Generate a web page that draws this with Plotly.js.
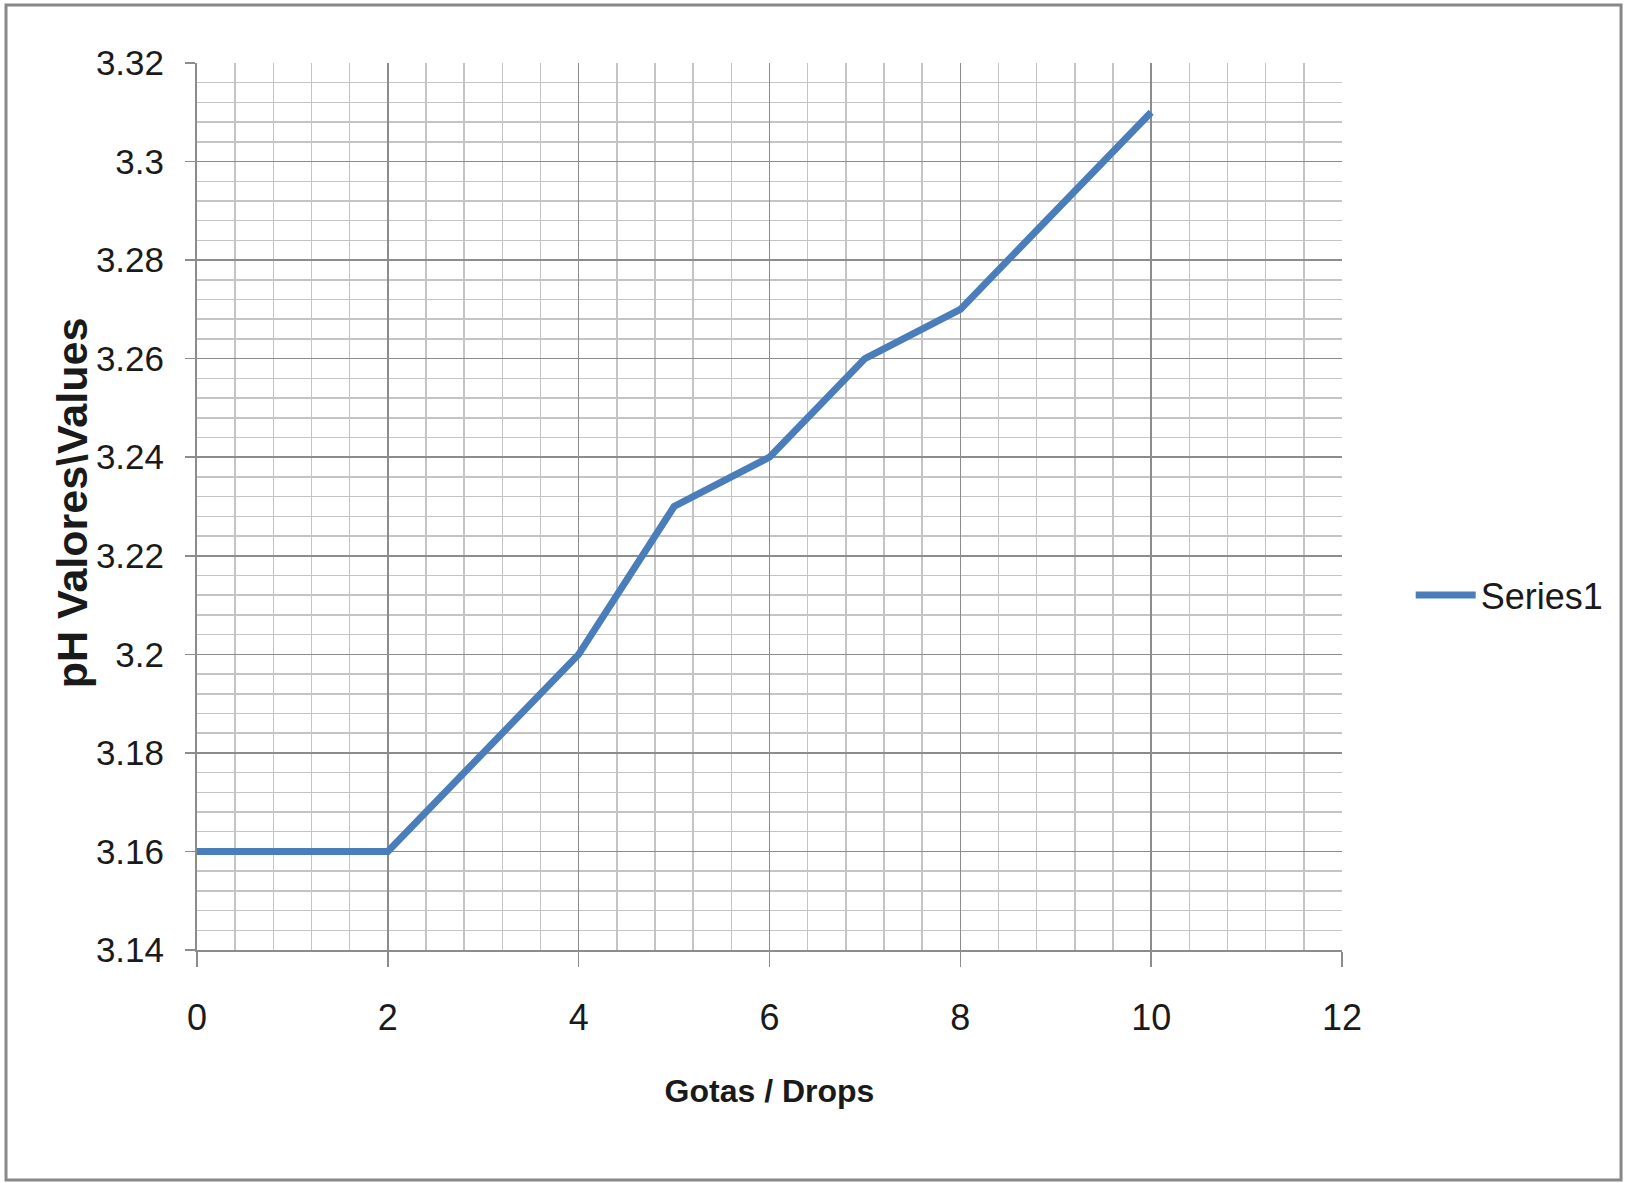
<!DOCTYPE html>
<html>
<head>
<meta charset="utf-8">
<script src="https://cdn.plot.ly/plotly-3.0.1.min.js"></script>
<style>
html,body{margin:0;padding:0;background:#fff;}
#chart{width:1627px;height:1183px;}
</style>
</head>
<body>
<div id="chart"></div>
<script>
const drops = [0, 2, 4, 5, 6, 7, 8, 10];
const phValues = [3.16, 3.16, 3.20, 3.23, 3.24, 3.26, 3.27, 3.31];
const seriesName = "Series1";
const xTitle = "Gotas / Drops";
const yTitle = "pH Valores\\Values";

const narrow = "Liberation Sans Narrow, Arial Narrow, Liberation Sans, sans-serif";

const trace = {
  x: drops,
  y: phValues,
  type: "scatter",
  mode: "lines",
  name: seriesName,
  line: {color: "#4a7ebb", width: 7},
  showlegend: true
};

const layout = {
  width: 1627,
  height: 1183,
  margin: {l: 197, r: 285, t: 63, b: 233},
  paper_bgcolor: "#ffffff",
  plot_bgcolor: "#ffffff",
  font: {family: narrow, color: "#1a1a1a", size: 36},
  xaxis: {
    range: [0, 12],
    tickmode: "linear", tick0: 0, dtick: 2,
    showgrid: true, gridcolor: "#8c8c8c", gridwidth: 1.5,
    minor: {tickmode: "linear", tick0: 0, dtick: 0.4, showgrid: true, gridcolor: "#c4c4c4", gridwidth: 1.5, ticks: ""},
    showline: true, linecolor: "#8c8c8c", linewidth: 2,
    ticks: "outside", ticklen: 15, tickcolor: "#8c8c8c", tickwidth: 1.5,
    ticklabelstandoff: 20,
    tickfont: {family: narrow, size: 36, color: "#1a1a1a"},
    zeroline: false,
    title: {text: xTitle, font: {family: "Liberation Sans, Arial, sans-serif", size: 32, color: "#1a1a1a", weight: "bold"}, standoff: 42}
  },
  yaxis: {
    range: [3.14, 3.32],
    tickmode: "linear", tick0: 3.14, dtick: 0.02,
    showgrid: true, gridcolor: "#8c8c8c", gridwidth: 1.5,
    minor: {tickmode: "linear", tick0: 3.14, dtick: 0.004, showgrid: true, gridcolor: "#c4c4c4", gridwidth: 1.5, ticks: ""},
    showline: true, linecolor: "#8c8c8c", linewidth: 2,
    ticks: "outside", ticklen: 10, tickcolor: "#8c8c8c", tickwidth: 1.5,
    ticklabelstandoff: 14,
    tickfont: {family: narrow, size: 35, color: "#1a1a1a"},
    zeroline: false
  },
  annotations: [{
    text: "<b>" + yTitle + "</b>",
    xref: "paper", yref: "paper",
    x: -0.109, y: 0.504, xanchor: "center", yanchor: "middle",
    textangle: -90, showarrow: false,
    font: {family: "Liberation Sans, Arial, sans-serif", size: 43, color: "#1a1a1a"}
  }],
  legend: {
    x: 1.06, xanchor: "left", y: 0.4, yanchor: "middle",
    font: {family: narrow, size: 36, color: "#1a1a1a"},
    bgcolor: "rgba(0,0,0,0)",
    itemwidth: 60
  },
  shapes: [{
    type: "rect", xref: "paper", yref: "paper",
    x0: -0.1668, x1: 1.2437, y0: -0.2593, y1: 1.0654,
    line: {color: "#888888", width: 3}
  }]
};

Plotly.newPlot("chart", [trace], layout, {displayModeBar: false, staticPlot: true});
</script>
</body>
</html>
